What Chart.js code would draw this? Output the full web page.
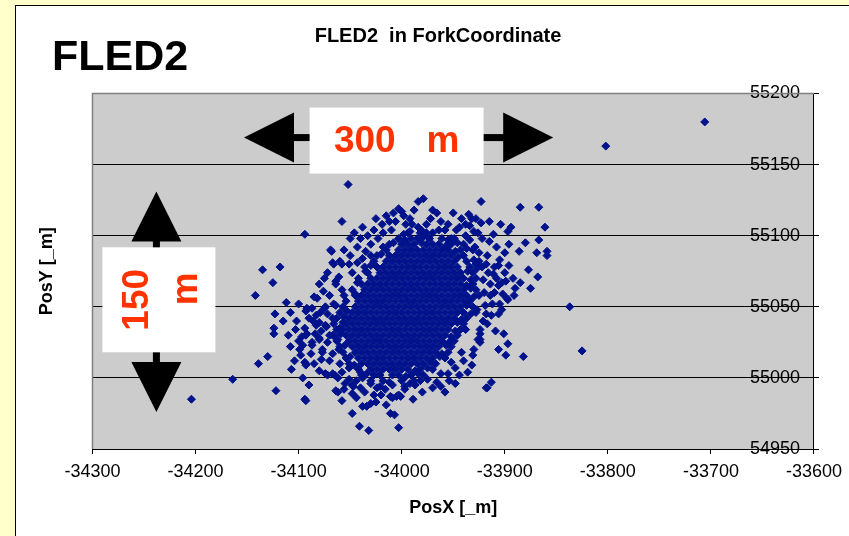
<!DOCTYPE html>
<html lang="en">
<head>
  <meta charset="UTF-8" />
  <title>FLED2 in ForkCoordinate</title>
  <script src="https://cdn.jsdelivr.net/npm/chart.js"></script>
  <style>
    html, body { margin: 0; padding: 0; background: #FFFFCC; }
    #wrap { width: 849px; height: 536px; position: relative; }
  </style>
</head>
<body>
  <div id="wrap"><canvas id="fled"></canvas></div>

  <script>
    // axis ticks
    const xTicks = [-34300, -34200, -34100, -34000, -33900, -33800, -33700, -33600];
    const yTicks = [54950, 55000, 55050, 55100, 55150, 55200];

    // dense core, read row by row (PosY of the row, then PosX of each mark)
    const coreRowY = [55102, 55098, 55094, 55090, 55086, 55082, 55078, 55074, 55070, 55066, 55062, 55058, 55054, 55050,
                      55046, 55042, 55038, 55034, 55030, 55026, 55022, 55018, 55014, 55010, 55006, 55002, 54998, 54994];
    const coreRowX = [
      [-33994,-33982,-33970],
      [-34003,-33991,-33985,-33973,-33961,-33949],
      [-34012,-34000,-33994,-33988,-33976,-33970,-33964,-33952,-33940],
      [-34015,-34003,-33997,-33991,-33985,-33979,-33973,-33967,-33961,-33955,-33943,-33931],
      [-34024,-34012,-34006,-34000,-33994,-33988,-33982,-33976,-33970,-33964,-33958,-33952,-33940],
      [-34027,-34015,-34009,-34003,-33997,-33991,-33985,-33979,-33973,-33967,-33961,-33955,-33949,-33937,-33925],
      [-34036,-34024,-34018,-34012,-34006,-34000,-33994,-33988,-33982,-33976,-33970,-33964,-33958,-33952,-33946,-33934,-33922],
      [-34033,-34021,-34015,-34009,-34003,-33997,-33991,-33985,-33979,-33973,-33967,-33961,-33955,-33949,-33943,-33931],
      [-34042,-34030,-34024,-34018,-34012,-34006,-34000,-33994,-33988,-33982,-33976,-33970,-33964,-33958,-33952,-33946,-33940,-33928],
      [-34039,-34033,-34027,-34021,-34015,-34009,-34003,-33997,-33991,-33985,-33979,-33973,-33967,-33961,-33955,-33949,-33943,-33931],
      [-34048,-34036,-34030,-34024,-34018,-34012,-34006,-34000,-33994,-33988,-33982,-33976,-33970,-33964,-33958,-33952,-33946,-33940,-33928],
      [-34045,-34039,-34033,-34027,-34021,-34015,-34009,-34003,-33997,-33991,-33985,-33979,-33973,-33967,-33961,-33955,-33949,-33943,-33937,-33925],
      [-34054,-34042,-34036,-34030,-34024,-34018,-34012,-34006,-34000,-33994,-33988,-33982,-33976,-33970,-33964,-33958,-33952,-33946,-33940,-33934],
      [-34057,-34045,-34039,-34033,-34027,-34021,-34015,-34009,-34003,-33997,-33991,-33985,-33979,-33973,-33967,-33961,-33955,-33949,-33943,-33931],
      [-34060,-34048,-34042,-34036,-34030,-34024,-34018,-34012,-34006,-34000,-33994,-33988,-33982,-33976,-33970,-33964,-33958,-33952,-33946,-33940,-33928],
      [-34063,-34051,-34045,-34039,-34033,-34027,-34021,-34015,-34009,-34003,-33997,-33991,-33985,-33979,-33973,-33967,-33961,-33955,-33949,-33937],
      [-34066,-34054,-34048,-34042,-34036,-34030,-34024,-34018,-34012,-34006,-34000,-33994,-33988,-33982,-33976,-33970,-33964,-33958,-33952,-33940],
      [-34063,-34057,-34051,-34045,-34039,-34033,-34027,-34021,-34015,-34009,-34003,-33997,-33991,-33985,-33979,-33973,-33967,-33961,-33955,-33943],
      [-34066,-34054,-34048,-34042,-34036,-34030,-34024,-34018,-34012,-34006,-34000,-33994,-33988,-33982,-33976,-33970,-33964,-33958,-33946],
      [-34063,-34051,-34045,-34039,-34033,-34027,-34021,-34015,-34009,-34003,-33997,-33991,-33985,-33979,-33973,-33967,-33961,-33949],
      [-34060,-34048,-34042,-34036,-34030,-34024,-34018,-34012,-34006,-34000,-33994,-33988,-33982,-33976,-33970,-33964,-33952],
      [-34057,-34045,-34039,-34033,-34027,-34021,-34015,-34009,-34003,-33997,-33991,-33985,-33979,-33973,-33967,-33955],
      [-34054,-34042,-34036,-34030,-34024,-34018,-34012,-34006,-34000,-33994,-33988,-33982,-33976,-33970,-33958],
      [-34051,-34039,-34033,-34027,-34021,-34015,-34009,-34003,-33997,-33991,-33985,-33979,-33967],
      [-34042,-34030,-34024,-34018,-34012,-34006,-34000,-33994,-33982,-33970],
      [-34039,-34027,-34021,-34009,-34003,-33991,-33979],
      [-34030,-34018,-34000,-33988],
      [-34021,-33997]
    ];

    // scattered marks around the core [PosX, PosY]
    const looseSamples = [
      [-34094,55101],[-34069,55090],[-34067,55081],[-34064,55068],[-34135,55076],[-34118,55078],[-34125,55067],
      [-34142,55058],[-34112,55053],[-34076,55061],[-34123,55045],[-34124,55035],[-34124,55031],[-34130,55015],
      [-34139,55010],[-34164,54999],[-34204,54985],[-34122,54991],[-34094,54985],[-34107,55006],[-34094,55011],
      [-34096,55000],[-34090,54995],[-34108,55022],[-34102,55040],[-34103,55034],[-34092,55049],[-34092,55031],
      [-34099,55020],[-34098,55016],[-34088,55017],[-34074,55003],[-34067,55003],[-34064,54991],[-34083,55044],
      [-34074,55050],[-34080,55039],[-34074,55037],[-34080,55028],[-34077,55020],[-34066,55052],[-34067,55042],
      [-34067,55030],[-34067,55017],[-34087,55025],[-34072,55025],
      [-34052,55136],[-34058,55110],[-33984,55124],[-33979,55126],[-33923,55124],[-34003,55119],[-34000,55117],
      [-34015,55114],[-34006,55110],[-33996,55108],[-33992,55112],[-33972,55112],[-33942,55112],[-33934,55107],
      [-33923,55109],[-34027,55104],[-34023,55098],[-34043,55092],[-34035,55089],[-34068,55089],[-34066,55080],
      [-34058,55080],[-34051,55080],[-34043,55081],[-34038,55084],[-34061,55071],[-34064,55066],[-33981,55104],
      [-33958,55104],[-33947,55104],[-33934,55097],[-33929,55092],[-33992,55103],[-33984,55106],
      [-34062,54990],[-34048,54975],[-34041,54966],[-34032,54963],[-34003,54965],[-34011,54975],[-34007,54974],
      [-34038,54980],[-34034,54980],[-34027,54988],[-34025,54983],[-34015,54981],[-34011,54987],[-34005,54987],
      [-34001,54987],[-33989,54985],[-33997,54992],[-33987,54995],[-34009,54995],[-34047,54994],[-33975,54999],
      [-33966,54997],[-33948,54996],[-33918,54993],[-33948,55007],[-33932,55009],[-33931,55016],[-33924,55027],
      [-33924,55031],
      [-33885,55120],[-33867,55120],[-33861,55106],[-33915,55110],[-33904,55108],[-33897,55103],[-33894,55106],
      [-33911,55101],[-33922,55098],[-33880,55095],[-33867,55097],[-33886,55089],[-33869,55088],[-33859,55089],
      [-33859,55086],[-33905,55083],[-33906,55079],[-33910,55078],[-33896,55079],[-33877,55076],[-33868,55071],
      [-33875,55063],[-33885,55067],[-33890,55063],[-33891,55058],[-33899,55068],[-33903,55067],[-33906,55065],
      [-33902,55059],[-33897,55055],[-33911,55073],[-33882,55015],[-33906,55020],[-33899,55016],[-33897,55024],
      [-33909,55033],[-33901,55031],[-33913,54997],[-33917,54993],[-33903,55048],[-33906,55045],[-33914,55058],
      [-33917,55038],[-33924,55034],[-33924,55025],[-33919,55051],[-33918,55045],[-33921,55069],[-33914,55066],
      [-33706,55180],[-33802,55163],[-33837,55050],[-33825,55019],
      [-34058,55062],[-34087,55049],[-34075,55049],[-34093,55047],[-34090,55042],[-34083,55037],[-34073,55036],
      [-34064,55051],[-34093,55030],[-34096,55023],[-34087,55023],[-34080,55027],[-34093,55010],[-34077,55018],
      [-34072,55002],[-34065,55002],[-34058,55004],[-34051,55007],[-34051,54999],[-34048,54995],[-34038,55000],
      [-34048,54989],[-34009,54986],[-34003,54988],[-33952,55011],[-33942,55018],[-33926,55027],[-33898,55056],
      [-33930,55103],[-34094,55035],[-34097,55029],[-34093,55009],[-34093,54984],
      [-34030,55094],[-34048,55074],[-34056,55058],[-33955,55003],[-33940,55012],[-33917,55086],[-33913,55044],
      [-34040,55098],[-34019,55108],[-33966,55116],[-33952,55098],[-33938,55100],[-33962,55110],[-34010,55104],
      [-33928,55080],[-33916,55074],[-33920,55060],[-33912,55052],[-33927,55048],[-33921,55040],[-33930,55020],
      [-33938,55034],[-34024,54993],[-34012,54997],[-33980,54990],[-33962,55003],[-33958,54990],[-34036,54990],
      [-34072,55045],[-34078,55033],[-34061,55020],[-34070,55012],[-34056,55090],[-34050,55098],[-34075,55070],
      [-34082,55056],
      // fringe between the core and the scatter
      [-34053,55047],[-34057,55039],[-34059,55031],[-34055,55023],[-34050,55015],[-34046,55009],[-34034,55003],
      [-34045,55059],[-34043,55067],[-34035,55075],[-34030,55079],[-34020,55087],[-34008,55095],[-33998,55101],
      [-34060,55035],[-34062,55027],[-34056,55043],
      [-33930,55083],[-33927,55077],[-33936,55075],[-33933,55069],[-33937,55065],[-33933,55063],[-33930,55057],
      [-33937,55051],[-33933,55045],[-33942,55041],[-33946,55039],[-33948,55033],[-33952,55029],[-33954,55025],
      [-33957,55023],[-33961,55017],[-33963,55015],[-33972,55011],[-33987,55005],[-33975,55007],[-33996,55001],
      [-33984,55003],[-33948,55089],[-33937,55091],[-33945,55085],[-33981,55095],[-33957,55093],[-33946,55095],
      [-33997,55097],[-33979,55099],[-33955,55097],
      [-34085,55010],[-34080,55005],[-34078,55013],[-34084,55031],[-34086,55040],[-34079,55046],[-34070,55030],
      [-34060,55010],[-34062,55000],[-34055,54996],[-34044,54998],[-34040,55004],[-34100,55026],[-34104,55012],
      [-34110,55030],[-34115,55040],[-34108,55046],[-34100,55052],[-34085,55057],[-34070,55058],[-34080,55066],
      [-34072,55074],[-34060,55082],[-34050,55086],
      [-33935,55115],[-33928,55112],[-33915,55096],[-33908,55092],[-33900,55088],[-33896,55094],[-33925,55088],
      [-33918,55080],[-33908,55070],[-33900,55074],[-33892,55070],[-33910,55060],[-33905,55052],
      [-34025,55112],[-34018,55102],[-34012,55110],[-34008,55116],[-33998,55114],[-33988,55118],[-33976,55108],
      [-33970,55118],[-33964,55104],[-33955,55108],[-33950,55116],[-33944,55106],[-33938,55108],[-33932,55112],
      [-33926,55102],[-34033,55100],[-34038,55106],[-34046,55102],[-34030,55086],[-34018,55092],[-33990,55108],
      [-33976,55102],
      [-34056,54992],[-34044,54986],[-34030,54996],[-34020,54988],[-34016,54992],[-33992,54996],[-33982,54998],
      [-33970,54993],[-33962,54994],[-33954,54998],[-34040,54993],[-33936,55004],[-33944,55002],[-34058,54984],
      [-34030,54982]
    ];

    // scale bars drawn on the plot, in data units
    const spanX = [-34153, -33853], spanXAt = 55169;
    const spanY = [55131, 54976], spanYAt = -34238;

    const FONT = "'Liberation Sans', Arial, sans-serif";

    const points = [];
    coreRowY.forEach((y, i) => coreRowX[i].forEach(x => points.push({ x, y })));
    looseSamples.forEach(([x, y]) => points.push({ x, y }));

    function drawArrow(ctx, x1, y1, x2, y2) {
      const head = 50, headW = 50, shaft = 7;
      const len = Math.hypot(x2 - x1, y2 - y1);
      ctx.save();
      ctx.translate(x1, y1);
      ctx.rotate(Math.atan2(y2 - y1, x2 - x1));
      ctx.fillStyle = '#000';
      ctx.fillRect(head - 1, -shaft / 2, len - 2 * head + 2, shaft);
      ctx.beginPath();
      ctx.moveTo(0, 0); ctx.lineTo(head, -headW / 2); ctx.lineTo(head, headW / 2);
      ctx.closePath(); ctx.fill();
      ctx.beginPath();
      ctx.moveTo(len, 0); ctx.lineTo(len - head, -headW / 2); ctx.lineTo(len - head, headW / 2);
      ctx.closePath(); ctx.fill();
      ctx.restore();
    }

    const decor = {
      id: 'decor',
      beforeDraw(chart) {
        const { ctx, chartArea: a, width, height } = chart;
        ctx.save();
        ctx.fillStyle = '#FFFFCC';
        ctx.fillRect(0, 0, width, height);
        ctx.fillStyle = '#FFFFFF';
        ctx.fillRect(15, 5, width, height);
        ctx.strokeStyle = '#000';
        ctx.lineWidth = 1;
        ctx.strokeRect(15.5, 5.5, width, height);
        ctx.fillStyle = '#CCCCCC';
        ctx.fillRect(a.left, a.top, a.right - a.left, a.bottom - a.top);
        ctx.restore();
      },
      beforeDatasetsDraw(chart) {
        const { ctx, chartArea: a } = chart;
        ctx.save();
        ctx.strokeStyle = '#808080';
        ctx.lineWidth = 1.5;
        ctx.beginPath();
        ctx.moveTo(a.left, a.bottom);
        ctx.lineTo(a.left, a.top);
        ctx.lineTo(a.right, a.top);
        ctx.stroke();
        ctx.restore();
      },
      afterDatasetsDraw(chart) {
        const { ctx } = chart;
        const sx = chart.scales.x, sy = chart.scales.y;

        // horizontal 300 m bar
        const hx1 = sx.getPixelForValue(spanX[0]), hx2 = sx.getPixelForValue(spanX[1]);
        const hy = sy.getPixelForValue(spanXAt);
        drawArrow(ctx, hx1, hy, hx2, hy);
        const hcx = (hx1 + hx2) / 2 - 2, hcy = hy + 3;
        ctx.save();
        ctx.fillStyle = '#FFFFFF';
        ctx.fillRect(hcx - 87, hcy - 33, 174, 66);
        ctx.fillStyle = '#FF3300';
        ctx.font = 'bold 37px ' + FONT;
        ctx.textAlign = 'center';
        ctx.textBaseline = 'middle';
        ctx.fillText('300   m', hcx, hcy + 1);
        ctx.restore();

        // vertical 150 m bar
        const vx = sx.getPixelForValue(spanYAt);
        const vy1 = sy.getPixelForValue(spanY[0]), vy2 = sy.getPixelForValue(spanY[1]);
        drawArrow(ctx, vx, vy1, vx, vy2);
        const vcx = vx + 2.5, vcy = (vy1 + vy2) / 2 - 2;
        ctx.save();
        ctx.fillStyle = '#FFFFFF';
        ctx.fillRect(vcx - 56.5, vcy - 52.5, 113, 105);
        ctx.fillStyle = '#FF3300';
        ctx.font = 'bold 37px ' + FONT;
        ctx.textAlign = 'center';
        ctx.textBaseline = 'middle';
        ctx.save();
        ctx.translate(vcx - 21, vcy);
        ctx.rotate(-Math.PI / 2);
        ctx.fillText('150', 0, 0);
        ctx.restore();
        ctx.save();
        ctx.translate(vcx + 28, vcy - 11);
        ctx.rotate(-Math.PI / 2);
        ctx.fillText('m', 0, 0);
        ctx.restore();
        ctx.restore();
      },
      afterDraw(chart) {
        const { ctx } = chart;
        ctx.save();
        ctx.fillStyle = '#000';
        ctx.textBaseline = 'middle';
        ctx.textAlign = 'left';
        ctx.font = 'bold 43px ' + FONT;
        ctx.fillText('FLED2', 52, 58);
        ctx.textAlign = 'center';
        ctx.font = 'bold 20px ' + FONT;
        ctx.fillText('FLED2  in ForkCoordinate', 438, 36);
        ctx.restore();
      }
    };

    new Chart(document.getElementById('fled'), {
      type: 'scatter',
      data: {
        datasets: [{
          label: 'FLED2',
          data: points,
          pointStyle: 'rectRot',
          pointRadius: 4,
          pointHoverRadius: 4,
          borderWidth: 1,
          backgroundColor: '#00128C',
          borderColor: '#00128C'
        }]
      },
      options: {
        responsive: true,
        maintainAspectRatio: false,
        animation: false,
        layout: { padding: { top: 93.5, left: 0, right: 0, bottom: 0 } },
        plugins: {
          legend: { display: false },
          tooltip: { enabled: false },
          title: { display: false }
        },
        scales: {
          x: {
            type: 'linear',
            position: 'bottom',
            min: -34300,
            max: -33600,
            afterBuildTicks: s => { s.ticks = xTicks.map(v => ({ value: v })); },
            afterFit: s => { s.height = 87; },
            ticks: {
              callback: v => String(v),
              color: '#000',
              padding: 7,
              font: { family: FONT, size: 18 }
            },
            grid: { drawOnChartArea: false, drawTicks: true, tickLength: 5, color: '#000' },
            border: { display: true, color: '#000', width: 1 },
            title: {
              display: true,
              text: 'PosX [_m]',
              color: '#000',
              font: { family: FONT, size: 18, weight: 'bold' },
              padding: { top: 0, bottom: 17 }
            }
          },
          y: {
            type: 'linear',
            position: 'right',
            min: 54950,
            max: 55200,
            afterBuildTicks: s => { s.ticks = yTicks.map(v => ({ value: v })); },
            afterFit: s => { s.width = 31.5; },
            ticks: {
              mirror: true,
              padding: -14,
              callback: v => String(v),
              color: '#000',
              font: { family: FONT, size: 18 }
            },
            grid: { color: '#000', lineWidth: 1, drawTicks: true, tickLength: 5 },
            border: { display: true, color: '#000', width: 1 }
          },
          yTitle: {
            type: 'linear',
            position: 'left',
            min: 54950,
            max: 55200,
            afterFit: s => { s.width = 92.5; },
            ticks: { display: false },
            grid: { display: false },
            border: { display: false },
            title: {
              display: true,
              text: 'PosY [_m]',
              color: '#000',
              font: { family: FONT, size: 18, weight: 'bold' },
              padding: { top: 36, bottom: 0 }
            }
          }
        }
      },
      plugins: [decor]
    });
  </script>
</body>
</html>
